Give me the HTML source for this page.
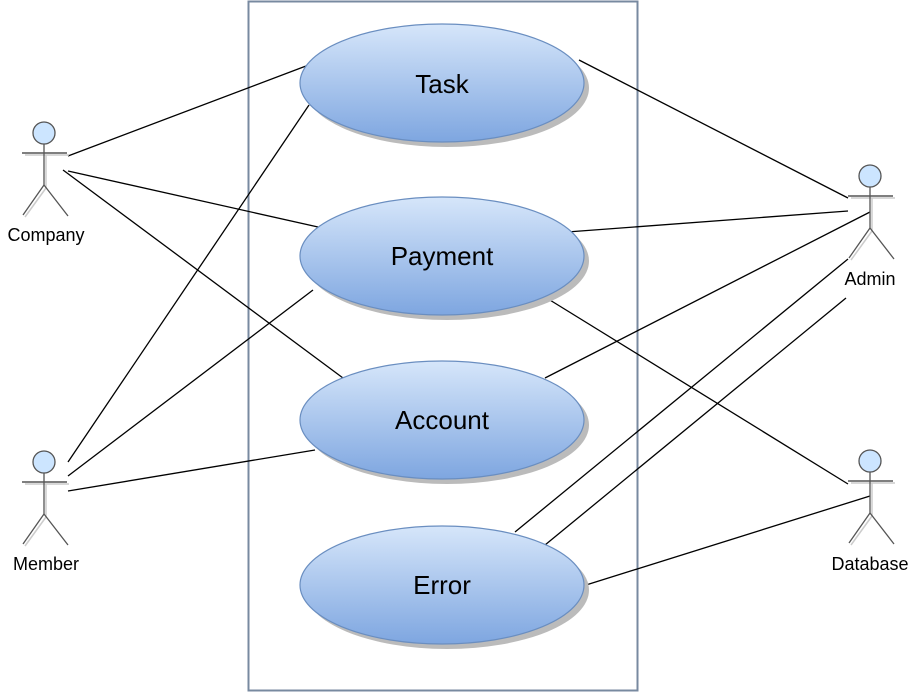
<!DOCTYPE html><html><head><style>body{margin:0;background:#fff}svg{display:block}</style></head><body>
<svg width="915" height="698" xmlns="http://www.w3.org/2000/svg" font-family="Liberation Sans, Arial, sans-serif">
<defs>
<linearGradient id="g" x1="0" y1="0" x2="0" y2="1"><stop offset="0" stop-color="#d6e6fa"/><stop offset="1" stop-color="#7ea6e0"/></linearGradient>
<g id="actor">
<line x1="2" y1="22" x2="2" y2="55" stroke="#ccc" stroke-width="1.5"/>
<line x1="-19" y1="22" x2="25" y2="22" stroke="#ccc" stroke-width="1.5"/>
<line x1="2" y1="55" x2="-19" y2="84" stroke="#ccc" stroke-width="1.5"/>
<circle cx="0" cy="0" r="11" fill="#cce5ff" stroke="#555" stroke-width="1.3"/>
<line x1="0" y1="11" x2="0" y2="52" stroke="#555" stroke-width="1.3"/>
<line x1="-22" y1="20" x2="23" y2="20" stroke="#555" stroke-width="1.5"/>
<line x1="0" y1="52" x2="-21" y2="82" stroke="#555" stroke-width="1.3"/>
<line x1="0" y1="52" x2="24" y2="83" stroke="#555" stroke-width="1.3"/>
</g>
</defs>
<rect x="248.5" y="1.5" width="389" height="689" fill="#fff" stroke="#788aa0" stroke-width="2"/>
<g stroke="#000" stroke-width="1.3">
<line x1="68" y1="156" x2="306" y2="66"/><line x1="68" y1="171" x2="318" y2="227"/><line x1="63" y1="170" x2="343" y2="378"/>
<line x1="68" y1="462" x2="309" y2="105"/><line x1="68" y1="476" x2="313" y2="290"/><line x1="68" y1="491" x2="315" y2="450"/>
<line x1="579" y1="60" x2="848" y2="198"/><line x1="567" y1="232" x2="848" y2="211"/><line x1="545" y1="378" x2="870" y2="212"/>
<line x1="515" y1="532" x2="848" y2="259"/><line x1="545" y1="545" x2="846" y2="298"/>
<line x1="545" y1="297" x2="848" y2="484"/><line x1="586" y1="585" x2="870" y2="496"/>
</g>
<g>
<ellipse cx="447" cy="88" rx="142" ry="59" fill="#bbb"/>
<ellipse cx="442" cy="83" rx="142" ry="59" fill="url(#g)" stroke="#6a8ec0" stroke-width="1.2"/>
<ellipse cx="447" cy="261" rx="142" ry="59" fill="#bbb"/>
<ellipse cx="442" cy="256" rx="142" ry="59" fill="url(#g)" stroke="#6a8ec0" stroke-width="1.2"/>
<ellipse cx="447" cy="425" rx="142" ry="59" fill="#bbb"/>
<ellipse cx="442" cy="420" rx="142" ry="59" fill="url(#g)" stroke="#6a8ec0" stroke-width="1.2"/>
<ellipse cx="447" cy="590" rx="142" ry="59" fill="#bbb"/>
<ellipse cx="442" cy="585" rx="142" ry="59" fill="url(#g)" stroke="#6a8ec0" stroke-width="1.2"/>
</g>
<g font-size="26" text-anchor="middle" fill="#000">
<text x="442" y="93">Task</text><text x="442" y="265">Payment</text><text x="442" y="429">Account</text><text x="442" y="594">Error</text>
</g>
<use href="#actor" x="44" y="133"/><use href="#actor" x="44" y="462"/><use href="#actor" x="870" y="176"/><use href="#actor" x="870" y="461"/>
<g font-size="18" text-anchor="middle" fill="#000">
<text x="46" y="241">Company</text><text x="46" y="570">Member</text><text x="870" y="285">Admin</text><text x="870" y="570">Database</text>
</g>
</svg></body></html>
